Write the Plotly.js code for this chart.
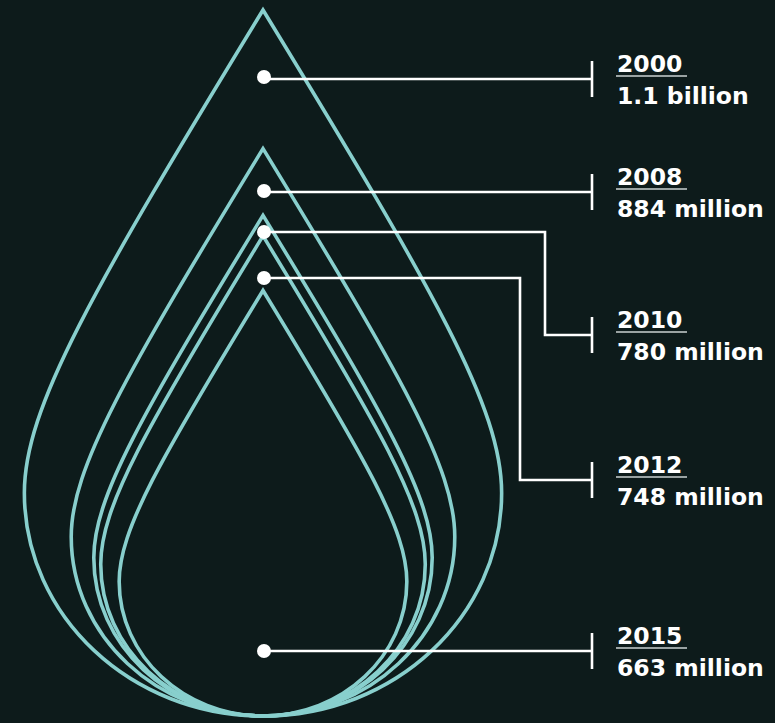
<!DOCTYPE html>
<html><head><meta charset="utf-8">
<script src="https://cdn.plot.ly/plotly-3.0.1.min.js"></script>
<style>html,body{margin:0;padding:0;background:#0d1b1b;overflow:hidden}</style>
</head><body><div id="chart" style="width:775px;height:723px;"></div>
<script>
// ---- data ----
const years = ['2000', '2008', '2010', '2012', '2015'];
const values = [1100, 884, 780, 748, 663];            // people (millions)
const valueLabels = ['1.1 billion', '884 million', '780 million', '748 million', '663 million'];

// ---- layout constants (pixels) ----
const W = 775, H = 723;
const BASE_PX = 716;          // bottom of every drop
const CENTER_PX = 263;        // drop axis
const TOP_PX = 10;            // tip of largest drop
const K = (BASE_PX - TOP_PX) / Math.max(...values); // px per unit

const dotY = [77, 191, 232, 278, 651];
const calloutY = [79, 192, 335, 480, 651];
const elbowX = [null, null, 545, 520, null];
const TICK_X = 592, LABEL_X = 616;

const DROP_COLOR = '#88cfcd';
const FONT = 'DejaVu Sans, Lato, sans-serif';

// paper coordinate helpers
const px = x => x / W;
const py = y => 1 - y / H;
const ppath = pts => 'M' + pts.map(p => px(p[0]).toFixed(5) + ',' + py(p[1]).toFixed(5)).join(' L');

// drop outline in data units, scaled by value
function dropPath(v) {
  const a = 0.338 * v, yw = 0.316 * v;
  const f = n => n.toFixed(3);
  return `M0,${f(v)} ` +
    `C${f(-0.244 * v)},${f(0.60 * v)} ${f(-a)},${f(yw + 0.12 * v)} ${f(-a)},${f(yw)} ` +
    `C${f(-a)},${f(0.1415 * v)} ${f(-0.1867 * v)},0 0,0 ` +
    `C${f(0.1867 * v)},0 ${f(a)},${f(0.1415 * v)} ${f(a)},${f(yw)} ` +
    `C${f(a)},${f(yw + 0.12 * v)} ${f(0.244 * v)},${f(0.60 * v)} 0,${f(v)} Z`;
}

const shapes = [];
values.forEach(v => {
  shapes.push({
    type: 'path', xref: 'x', yref: 'y', path: dropPath(v),
    line: {color: DROP_COLOR, width: 3.6}, fillcolor: 'rgba(0,0,0,0)'
  });
});

const annotations = [];
values.forEach((v, i) => {
  const L = calloutY[i];
  const dx = CENTER_PX + 1;
  let pts;
  if (elbowX[i] === null) {
    pts = [[dx, L], [TICK_X, L]];
  } else {
    pts = [[dx, dotY[i]], [elbowX[i], dotY[i]], [elbowX[i], L], [TICK_X, L]];
  }
  shapes.push({type: 'path', xref: 'paper', yref: 'paper', path: ppath(pts),
    line: {color: '#ffffff', width: 2.6}, fillcolor: 'rgba(0,0,0,0)'});
  // tick
  shapes.push({type: 'line', xref: 'paper', yref: 'paper',
    x0: px(TICK_X), x1: px(TICK_X), y0: py(L - 18), y1: py(L + 18),
    line: {color: '#ffffff', width: 2.6}});
  // dot
  shapes.push({type: 'circle', xref: 'paper', yref: 'paper',
    xsizemode: 'pixel', ysizemode: 'pixel',
    xanchor: px(dx), yanchor: py(dotY[i]),
    x0: -7, x1: 7, y0: -7, y1: 7,
    fillcolor: '#ffffff', line: {width: 0}});
  // underline
  shapes.push({type: 'line', xref: 'paper', yref: 'paper',
    x0: px(LABEL_X), x1: px(LABEL_X + 71), y0: py(L - 3), y1: py(L - 3),
    line: {color: '#9aa3a3', width: 1.8}});
  annotations.push({
    xref: 'paper', yref: 'paper', x: px(LABEL_X - 1), y: py(L - 15),
    xanchor: 'left', yanchor: 'middle', showarrow: false,
    text: years[i], font: {family: FONT, size: 23.5, color: '#ffffff', weight: 700}
  });
  annotations.push({
    xref: 'paper', yref: 'paper', x: px(LABEL_X - 1), y: py(L + 17),
    xanchor: 'left', yanchor: 'middle', showarrow: false,
    text: valueLabels[i], font: {family: FONT, size: 23.5, color: '#ffffff', weight: 700}
  });
});

const layout = {
  width: W, height: H, autosize: false,
  margin: {l: 0, r: 0, t: 0, b: 0, pad: 0},
  paper_bgcolor: '#0d1b1b', plot_bgcolor: '#0d1b1b',
  showlegend: false, hovermode: false,
  xaxis: {visible: false, range: [-CENTER_PX / K, (W - CENTER_PX) / K], fixedrange: true},
  yaxis: {visible: false, range: [-(H - BASE_PX) / K, BASE_PX / K], fixedrange: true},
  shapes: shapes, annotations: annotations
};

Plotly.newPlot('chart', [{x: [0], y: [0], mode: 'markers', marker: {opacity: 0}, hoverinfo: 'skip'}],
  layout, {staticPlot: true, displayModeBar: false});
</script>
</body></html>
